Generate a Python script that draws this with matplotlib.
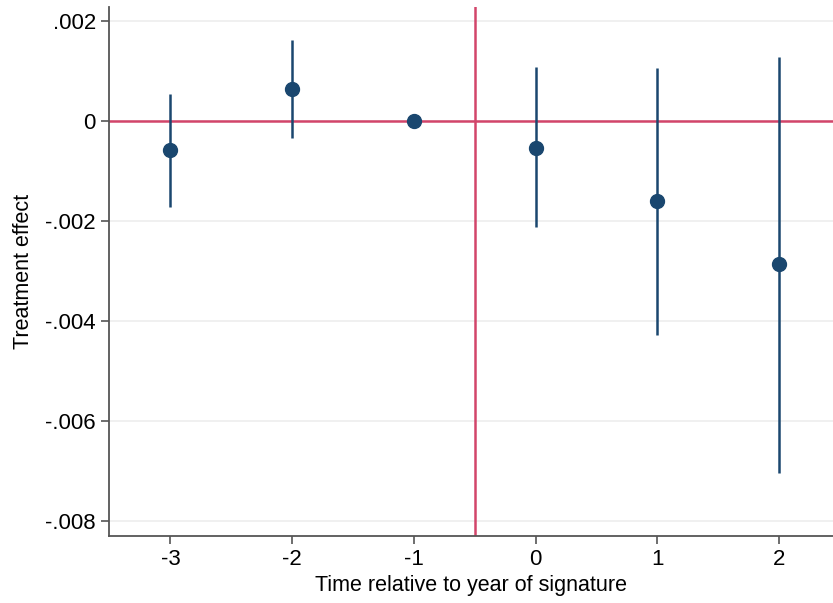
import matplotlib
matplotlib.use('Agg')
from matplotlib import pyplot as plt
import numpy as np

plt.rcParams['font.family'] = ['Liberation Sans', 'DejaVu Sans']

# event time and estimates
period = [-3, -2, -1, 0, 1, 2]
coef = [-0.00058, 0.00064, 0.0, -0.00054, -0.00161, -0.00287]
ci_low = [-0.00173, -0.00034, 0.0, -0.00213, -0.00428, -0.00704]
ci_high = [0.00054, 0.00161, 0.0, 0.00107, 0.00105, 0.00127]
yticks = [0.002, 0, -0.002, -0.004, -0.006, -0.008]
ytick_labels = ['.002', '0', '-.002', '-.004', '-.006', '-.008']

navy = '#1a476f'
red = '#d2456a'

fig = plt.figure(figsize=(8.33, 6.03), dpi=100)
ax = fig.add_axes([0.1309, 0.1111, 0.8691, 0.8773])

ax.set_xlim(-3.505, 2.445)
ax.set_ylim(-0.008306, 0.002274)

for y in yticks:
    ax.axhline(y, color='#eeeeee', lw=1.2, zorder=0)

ax.axhline(0, color=red, lw=1.8, zorder=1)
ax.axvline(-0.5, color=red, lw=1.8, zorder=1)

ax.vlines(period, ci_low, ci_high, color=navy, lw=1.8, zorder=2)
ax.plot(period, coef, 'o', color=navy, markersize=10, zorder=3)

ax.set_xticks(period)
ax.set_xticklabels([str(p) for p in period])
ax.set_yticks(yticks)
ax.set_yticklabels(ytick_labels)
ax.tick_params(axis='both', labelsize=16, length=6, width=1.2, color='#555555', direction='out')
ax.tick_params(axis='x', pad=3)

for side in ['top', 'right']:
    ax.spines[side].set_visible(False)
for side in ['left', 'bottom']:
    ax.spines[side].set_color('#555555')
    ax.spines[side].set_linewidth(1.3)

ax.set_ylabel('Treatment effect', fontsize=15.5, labelpad=8)
ax.set_xlabel('Time relative to year of signature', fontsize=15.5, labelpad=4)

fig.savefig('out.png', dpi=100)
